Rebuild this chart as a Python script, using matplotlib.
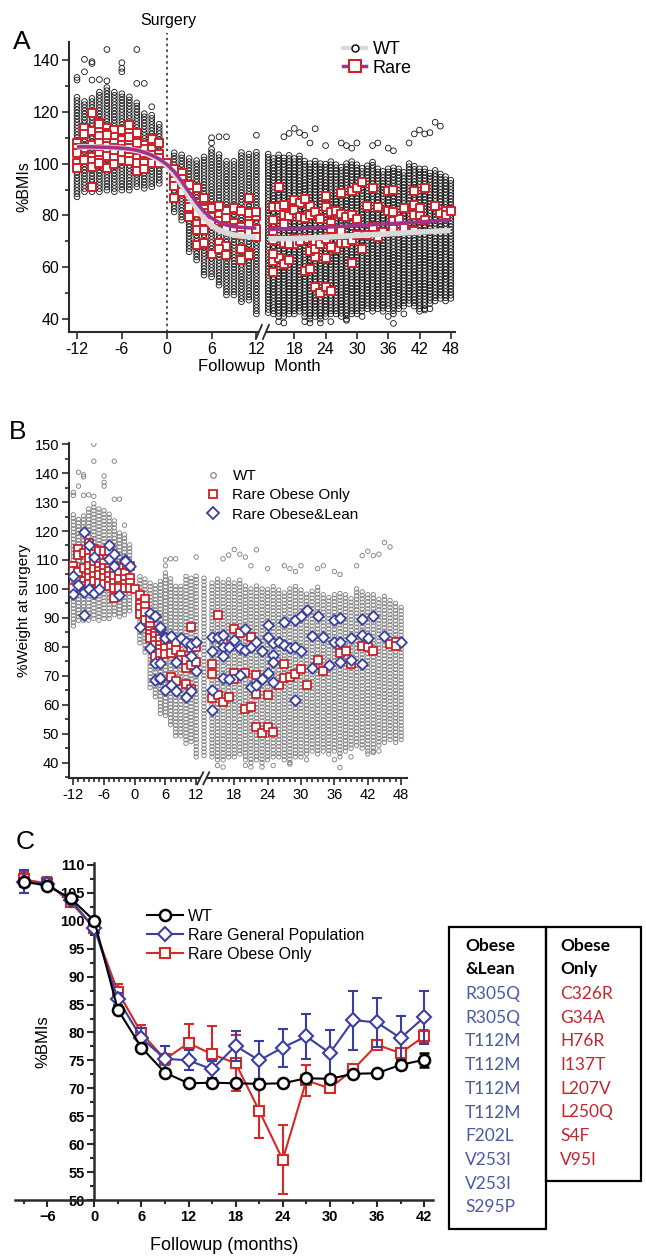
import numpy as np
import matplotlib
matplotlib.use("Agg")
import matplotlib.pyplot as plt
from matplotlib.ticker import FixedLocator, MultipleLocator
from matplotlib.patches import Rectangle
from matplotlib.lines import Line2D

NARROW = ["Liberation Sans Narrow", "Liberation Sans", "DejaVu Sans"]
ARIAL = ["Liberation Sans", "DejaVu Sans"]
plt.rcParams["font.family"] = NARROW

# ---------------- WT cloud (panels A, B): dense column range per month ----------------
wt_months = list(range(-12, 13)) + list(range(13, 49))
wt_lo = [87.2, 89.2, 89.2, 89.2, 89.8, 89.2, 89.8, 89.8, 91.1, 90.5, 91.1, 92.4,
         100.0, 81.4, 78.2, 66.0, 62.8, 57.0, 56.3, 53.1, 49.3, 49.3, 46.7, 47.3, 42.0,
         42.5, 42, 41, 41, 42, 42, 43, 41, 40, 41, 40, 41, 42, 42, 41, 40, 42, 42,
         43, 44, 43, 44, 43, 44, 42, 44, 45, 46, 45, 44, 44, 46, 47, 48, 47, 48]
wt_hi = [125.8, 124.6, 125.8, 128.0, 130.0, 128.0, 127.0, 126.0, 124.0, 120.0, 119.0, 116.2,
         100.0, 105.3, 104.0, 103.0, 101.4, 102.7, 106.5, 104.0, 101.0, 101.4, 104.6, 104.0, 105.0,
         104, 103, 104, 103, 104, 103, 104, 102, 101, 102, 101, 100, 101, 100, 99, 100, 101, 100,
         99, 100, 101, 99, 98, 99, 99, 98, 97, 100, 100, 99, 98, 97, 98, 96, 95, 94]
wt_out_m = [-12, -12, -11, -11, -10, -10, -10, -9, -8, -8, -6, -6, -6, -4, -4, -3, -2,
            6, 6, 7, 8, 12, 16, 17, 18, 19, 20, 21, 22, 24, 27, 28, 29, 30, 33, 34, 36,
            37, 40, 41, 42, 43, 44, 45, 46,
            15, 16, 20, 21, 23, 25, 28, 31, 36, 37, 39, 42, 43, 44]
wt_out_v = [133.3, 132.3, 140.3, 135.5, 138.7, 139.4, 132.3, 132.5, 144.1, 132.0, 139.0,
            136.8, 135.5, 144.1, 131.0, 131.0, 122.0,
            108.0, 110.0, 110.4, 110.4, 111.0, 110.4, 111.7, 113.6, 112.0, 111.0, 108.0,
            113.5, 107.0, 108.0, 107.0, 106.0, 108.0, 107.0, 108.0, 106.0, 105.0, 108.0,
            111.5, 113.0, 111.5, 112.0, 116.0, 114.5,
            39.0, 38.5, 39.0, 38.5, 38.5, 39.0, 39.5, 41.0, 41.0, 38.3, 42.0, 43.0, 43.5, 44.0]
wt_outB_m = [-8]
wt_outB_v = [150.0]

# ---------------- Rare carriers (panel B split, panel A combined) ----------------
red_m = [-12, -12, -12, -11, -11, -11, -10, -10, -10, -10,
         -9, -9, -9, -9, -9, -9, -9, -8, -8, -8, -8, -8, -8,
         -7, -7, -7, -7, -7, -7, -6, -6, -6, -6, -6, -6,
         -5, -5, -5, -5, -5, -5, -4, -4, -4, -4, -4, -4,
         -3, -3, -3, -3, -3, -2, -2, -2, -2, -1, -1, -1, -1, 0,
         1, 1, 1, 1, 2, 2, 2, 2, 3, 3, 3, 3, 3, 4, 4, 4, 4, 4, 5, 5, 5, 5, 5,
         6, 6, 6, 7, 7, 7, 8, 8, 8, 9, 9, 10, 10, 10, 11, 11, 11, 11, 12, 12,
         14, 14, 14, 15, 15, 16, 16, 17, 18, 18, 18, 19, 20, 20, 21, 21, 22, 22, 22,
         23, 24, 24, 25, 26, 27, 27, 28, 29, 30, 31, 33, 34, 37, 38, 39, 41, 42, 43,
         46, 47, 47]
red_v = [107.9, 106.2, 100.4, 113.7, 111.6, 105.9, 112.5, 107.3, 102.7, 101.0,
         115.7, 113.1, 110.8, 107.9, 105.6, 103.9, 101.6, 113.9, 111.9, 109.1, 106.8, 104.4, 102.9,
         113.1, 110.2, 107.9, 106.2, 104.7, 102.1, 113.1, 109.1, 107.3, 105.6, 103.9, 101.6,
         113.1, 107.3, 106.2, 104.4, 102.7, 101.0, 107.9, 106.2, 104.4, 102.1, 100.4, 97.0,
         107.3, 105.6, 103.3, 101.0, 100.4, 105.6, 103.3, 101.6, 100.4, 107.9, 103.9, 102.1, 100.4, 100.1,
         97.8, 94.7, 93.5, 91.4, 96.4, 94.1, 92.0, 89.2, 89.5, 87.2, 85.4, 84.3, 83.1,
         84.9, 83.7, 82.0, 80.8, 76.8, 84.3, 82.6, 80.8, 79.1, 78.0,
         81.6, 79.5, 77.4, 80.1, 77.8, 69.5, 81.6, 79.0, 68.2, 77.2, 75.3, 75.5, 72.6, 67.2,
         86.8, 79.5, 73.8, 65.5, 79.8, 74.6,
         74.1, 70.6, 62.3, 91.0, 63.4, 82.4, 61.1, 62.8, 86.1, 71.1, 68.8, 84.7, 71.1, 58.5,
         83.5, 59.2, 70.3, 63.8, 52.2, 50.2, 63.4, 52.2, 50.7, 66.9, 74.1, 69.2, 69.5, 70.6,
         72.3, 66.9, 75.5, 71.5, 77.8, 78.6, 74.1, 80.3, 80.1, 78.4, 80.9, 81.8, 80.3]
blue_m = [-12, -12, -11, -10, -10, -10, -9, -9, -9, -8, -8, -7, -5, -5, -4, -4, -3, -2, -2, -1,
          1, 3, 3, 4, 4, 4, 4, 5, 5, 5, 5, 5, 6, 6, 6, 7, 7, 8, 8, 9, 10, 10, 11, 11, 11,
          12, 12,
          14, 14, 14, 14, 15, 16, 16, 16, 16, 17, 17, 18, 19, 19, 20, 20, 21, 21, 22, 22,
          23, 23, 24, 24, 24, 25, 25, 25, 25, 26, 27, 27, 28, 29, 29, 29, 30, 30, 31, 32,
          32, 33, 34, 35, 36, 36, 37, 37, 37, 39, 39, 41, 41, 41, 42, 43, 45, 48]
blue_v = [104.3, 98.3, 101.4, 119.5, 91.0, 98.8, 115.2, 99.9, 100.1, 98.5, 111.0, 99.9, 115.0, 110.5,
          111.9, 108.0, 98.0, 110.0, 109.5, 108.0,
          86.9, 91.8, 79.5, 90.6, 74.5, 68.6, 90.5, 86.0, 74.5, 69.0, 86.8, 69.2,
          83.3, 65.1, 83.0, 83.6, 66.9, 74.9, 64.6, 83.0, 81.8, 62.8, 80.9, 76.7, 64.6,
          81.5, 71.8,
          83.3, 78.4, 65.1, 58.2, 83.3, 84.1, 80.1, 76.7, 69.2, 79.9, 68.8, 82.2, 79.5, 70.3,
          86.3, 79.0, 80.1, 66.3, 81.5, 66.9, 78.7, 68.8, 87.6, 83.3, 70.9, 81.3, 77.2, 74.9,
          68.0, 81.8, 80.7, 88.7, 79.5, 80.1, 89.3, 61.7, 90.7, 78.7, 92.8, 72.6, 83.6, 90.7,
          83.3, 73.8, 89.3, 81.8, 89.9, 81.5, 74.9, 83.0, 75.3, 89.5, 84.1, 74.1, 83.0, 90.7,
          83.6, 81.8]

# ---------------- fitted curves, panel A ----------------
fitL_m = list(range(-12, 13))
fit_rare_L = [106.5, 106.5, 106.5, 106.4, 106.3, 106.2, 106.0, 105.7, 105.2, 104.4, 103.3, 101.8,
              99.8, 97.0, 93.2, 89.0, 85.0, 81.5, 79.0, 77.3, 76.3, 75.7, 75.4, 75.2, 75.1]
fit_wt_L = [106.5, 106.5, 106.5, 106.4, 106.3, 106.2, 106.0, 105.6, 105.1, 104.3, 103.0, 101.4,
            99.2, 96.0, 91.8, 87.2, 82.8, 79.0, 76.2, 74.4, 73.2, 72.5, 72.0, 71.8, 71.6]
fitR_m = [13, 18, 24, 30, 36, 42, 48]
fit_rare_R = [74.6, 74.9, 75.5, 76.1, 76.8, 77.5, 78.3]
fit_wt_R = [71.0, 71.1, 71.6, 72.3, 72.9, 73.6, 74.2]

# ---------------- panel C: means and SEM ----------------
c_months = [-9, -6, -3, 0, 3, 6, 9, 12, 15, 18, 21, 24, 27, 30, 33, 36, 39, 42]
c_wt = [107.0, 106.3, 104.0, 100.0, 84.1, 77.3, 72.8, 70.9, 71.0, 70.9, 70.8, 70.9, 71.8, 71.7,
        72.6, 72.7, 74.2, 75.1]
c_wt_err = [0.5, 0.5, 0.4, 0.0, 0.4, 0.5, 0.4, 0.3, 0.3, 0.3, 0.3, 0.3, 0.4, 0.4, 0.5, 0.6, 0.8, 1.2]
c_gen = [107.0, 106.6, 103.7, 98.7, 86.0, 79.0, 75.3, 75.0, 73.4, 77.6, 75.0, 77.3, 79.3, 76.3,
         82.2, 81.8, 79.0, 82.7]
c_gen_err = [2.1, 0.8, 0.5, 0.5, 1.0, 1.8, 2.2, 1.8, 1.5, 2.7, 3.4, 3.4, 4.0, 4.2, 5.3, 4.4, 3.9, 4.7]
c_obese = [107.4, 106.7, 103.3, 98.7, 87.3, 79.9, 75.2, 78.1, 76.1, 74.5, 66.0, 57.2, 71.4, 70.0,
           73.4, 77.8, 76.3, 79.3]
c_obese_err = [1.4, 1.2, 0.6, 0.5, 1.4, 1.5, 1.0, 3.5, 5.0, 5.0, 4.9, 6.2, 2.8, 0.7, 0.7, 0.8, 1.0, 1.2]

obese_lean = ["R305Q", "R305Q", "T112M", "T112M", "T112M", "T112M", "F202L", "V253I", "V253I", "S295P"]
obese_only = ["C326R", "G34A", "H76R", "I137T", "L207V", "L250Q", "S4F", "V95I"]

major_ticks = [-12, -6, 0, 6, 12, 18, 24, 30, 36, 42, 48]

RED = "#cc2229"
BLUE = "#3a3f9f"
PURPLE = "#a3338a"
SPINE = "#2b2b2b"

W, H = 646, 1259
fig = plt.figure(figsize=(W / 100, H / 100), dpi=100)


def fx(x):
    return x / W


def fy(y):
    return 1 - y / H


def axes_px(l, t, r, b):
    return fig.add_axes([fx(l), fy(b), (r - l) / W, (b - t) / H])


def break_scale(brk, gap_end, f_gap_end, k):
    g = (f_gap_end - brk) / (gap_end - brk)

    def fwd(x):
        x = np.asarray(x, float)
        return np.where(x <= brk, x, np.where(x <= gap_end, brk + (x - brk) * g,
                                              f_gap_end + (x - gap_end) * k))

    def inv(y):
        y = np.asarray(y, float)
        return np.where(y <= brk, y, np.where(y <= f_gap_end, brk + (y - brk) / g,
                                              gap_end + (y - f_gap_end) / k))
    return fwd, inv


def cloud(months, lo, hi, step):
    xs, ys = [], []
    for m, a, b in zip(months, lo, hi):
        col = np.arange(a, b + 1e-9, step) if b > a else np.array([a])
        xs.append(np.full(col.size, m, float))
        ys.append(col)
    return np.concatenate(xs), np.concatenate(ys)


def style_axes(ax):
    for s in ("top", "right"):
        ax.spines[s].set_visible(False)
    for s in ("left", "bottom"):
        ax.spines[s].set_color(SPINE)
        ax.spines[s].set_linewidth(1.5)
    ax.tick_params(which="both", color=SPINE, width=1.2, direction="out")


def draw_break(ax, xb, dx_px=3.5, h_px=7):
    fig.canvas.draw()
    xd = ax.transData.transform((xb, 0))[0]
    y0 = ax.transAxes.transform((0, 0))[1]
    inv = fig.transFigure.inverted()
    p1 = inv.transform((xd - dx_px, y0 - 2))
    p2 = inv.transform((xd + dx_px, y0 + 2))
    fig.add_artist(Rectangle(p1, p2[0] - p1[0], p2[1] - p1[1], transform=fig.transFigure,
                             facecolor="white", edgecolor="none", zorder=10))
    for off in (-dx_px, dx_px):
        a = inv.transform((xd + off - 3, y0 - h_px))
        b = inv.transform((xd + off + 3, y0 + h_px))
        fig.add_artist(Line2D([a[0], b[0]], [a[1], b[1]], transform=fig.transFigure,
                              color=SPINE, lw=1.3, zorder=11))


# ================= Panel A =================
axA = axes_px(69, 42, 455, 332)
fA, iA = break_scale(12.5, 13.0, 13.58, 0.698)
axA.set_xscale("function", functions=(fA, iA))
axA.set_xlim(-13.07, 48.8)
axA.set_ylim(35, 147)
style_axes(axA)
xs, ys = cloud(wt_months, wt_lo, wt_hi, 1.2)
axA.scatter(xs, ys, s=17, facecolors="none", edgecolors="#111111", linewidths=0.6, zorder=2)
axA.scatter(wt_out_m, wt_out_v, s=17, facecolors="none", edgecolors="#111111", linewidths=0.6, zorder=2)
rare_m = red_m + blue_m
rare_v = red_v + blue_v
axA.scatter(rare_m, rare_v, marker="s", s=36, facecolors="white", edgecolors=RED, linewidths=1.4, zorder=3)
axA.plot(fitL_m, fit_wt_L, color="#d9d9d9", lw=4, zorder=4, solid_capstyle="butt")
axA.plot(fitR_m, fit_wt_R, color="#d9d9d9", lw=4, zorder=4, solid_capstyle="butt")
axA.plot(fitL_m, fit_rare_L, color=PURPLE, lw=2.6, zorder=5, solid_capstyle="butt")
axA.plot(fitR_m, fit_rare_R, color=PURPLE, lw=2.6, zorder=5, solid_capstyle="butt")
axA.axvline(0, ymin=0, ymax=1.03, color="#333333", lw=1.2, ls=(0, (1.5, 2)), clip_on=False, zorder=1)
axA.xaxis.set_major_locator(FixedLocator(major_ticks))
axA.set_xticklabels([str(t) for t in major_ticks])
axA.set_yticks(range(40, 141, 20))
axA.yaxis.set_minor_locator(MultipleLocator(10))
axA.tick_params(axis="both", which="major", labelsize=11.5, length=5, pad=2)
axA.tick_params(axis="y", which="minor", length=3)
axA.set_ylabel("%BMIs", fontsize=11.5)
axA.yaxis.set_label_coords(-0.098, 0.5)
hA = [Line2D([], [], color="#d9d9d9", lw=3, marker="o", ms=5, mfc="white", mec="black", mew=1.0),
      Line2D([], [], color=PURPLE, lw=2.5, marker="s", ms=8, mfc="white", mec=RED, mew=1.5)]
axA.legend(hA, ["WT", "Rare"], loc="upper left", bbox_to_anchor=(fx(343), fy(41)),
           bbox_transform=fig.transFigure, frameon=False, fontsize=13, handlelength=1.3,
           handletextpad=0.35, labelspacing=0.1, borderpad=0, borderaxespad=0)
fig.text(fx(168), fy(20), "Surgery", ha="center", va="center", fontsize=11.5)
fig.text(fx(259), fy(366), "Followup  Month", ha="center", va="center", fontsize=12)
fig.text(fx(22), fy(42), "A", ha="center", va="center", fontsize=19, family=ARIAL)

# ================= Panel B =================
axB = axes_px(69, 442.7, 406.7, 778.3)
fB, iB = break_scale(12.5, 13.5, 14.54, 1.087)
axB.set_xscale("function", functions=(fB, iB))
axB.set_xlim(-12.85, 49)
axB.set_ylim(34.6, 150.5)
style_axes(axB)
xs, ys = cloud(wt_months, wt_lo, wt_hi, 1.2)
axB.scatter(xs, ys, s=10, facecolors="none", edgecolors="#7a7a7a", linewidths=0.6, zorder=2)
axB.scatter(wt_out_m + wt_outB_m, wt_out_v + wt_outB_v, s=10, facecolors="none",
            edgecolors="#7a7a7a", linewidths=0.6, zorder=2)
axB.scatter(red_m, red_v, marker="s", s=30, facecolors="white", edgecolors=RED, linewidths=1.3, zorder=3)
axB.scatter(blue_m, blue_v, marker="D", s=30, facecolors="white", edgecolors=BLUE, linewidths=1.3, zorder=4)
axB.xaxis.set_major_locator(FixedLocator(major_ticks))
axB.set_xticklabels([str(t) for t in major_ticks])
axB.xaxis.set_minor_locator(FixedLocator([m for m in list(range(-12, 13)) + list(range(14, 49))
                                          if m not in major_ticks]))
axB.set_yticks(range(40, 151, 10))
axB.yaxis.set_minor_locator(MultipleLocator(5))
axB.tick_params(axis="both", which="major", labelsize=10.5, length=5, pad=2)
axB.tick_params(axis="both", which="minor", length=3)
axB.set_ylabel("%Weight at surgery", fontsize=11)
axB.yaxis.set_label_coords(-0.112, 0.5)
hB = [Line2D([], [], ls="none", marker="o", ms=4, mfc="none", mec="#7a7a7a", mew=0.8),
      Line2D([], [], ls="none", marker="s", ms=6, mfc="white", mec=RED, mew=1.3),
      Line2D([], [], ls="none", marker="D", ms=6, mfc="white", mec=BLUE, mew=1.3)]
axB.legend(hB, ["WT", "Rare Obese Only", "Rare Obese&Lean"], loc="upper left",
           bbox_to_anchor=(fx(205), fy(469)), bbox_transform=fig.transFigure, frameon=False,
           fontsize=11, handlelength=1.0, handletextpad=0.8, labelspacing=0.35,
           borderpad=0, borderaxespad=0)
fig.text(fx(18), fy(432), "B", ha="center", va="center", fontsize=19, family=ARIAL)

# ================= Panel C =================
axC = axes_px(15, 862.7, 432.7, 1200)
axC.set_xlim(-10.1, 43.1)
axC.set_ylim(50, 110.4)
style_axes(axC)
axC.spines["left"].set_position(("data", 0))
axC.spines["left"].set_linewidth(1.8)
axC.spines["bottom"].set_linewidth(1.8)
ekw = dict(capsize=3.5, elinewidth=1.5, capthick=1.5, lw=1.5)
axC.errorbar(c_months, c_obese, yerr=c_obese_err, color="#d42a2a", marker="s", ms=7.5,
             mfc="white", mec="#d42a2a", mew=1.5, zorder=3, **ekw)
axC.errorbar(c_months, c_gen, yerr=c_gen_err, color=BLUE, marker="D", ms=7.5,
             mfc="white", mec=BLUE, mew=1.5, zorder=4, **ekw)
axC.errorbar(c_months, c_wt, yerr=c_wt_err, color="black", marker="o", ms=8,
             mfc="white", mec="black", mew=1.8, zorder=5, **ekw)
axC.set_xticks(range(-6, 43, 6))
axC.xaxis.set_minor_locator(FixedLocator(list(range(-9, 43, 6))))
axC.set_yticks(range(50, 111, 5))
axC.yaxis.set_minor_locator(MultipleLocator(2.5))
axC.tick_params(axis="both", which="major", labelsize=10.5, length=5, width=1.5, pad=2)
axC.tick_params(axis="both", which="minor", length=3, width=1.5)
for lab in axC.get_xticklabels() + axC.get_yticklabels():
    lab.set_family(ARIAL)
    lab.set_fontweight("bold")
fig.text(fx(43), fy(1042), "%BMIs", rotation=90, ha="center", va="center", fontsize=12, family=ARIAL)
fig.text(fx(224), fy(1245), "Followup (months)", ha="center", va="center", fontsize=13, family=ARIAL)
hC = [Line2D([], [], color="black", lw=1.5, marker="o", ms=8, mfc="white", mec="black", mew=1.8),
      Line2D([], [], color=BLUE, lw=1.5, marker="D", ms=7.5, mfc="white", mec=BLUE, mew=1.5),
      Line2D([], [], color="#d42a2a", lw=1.5, marker="s", ms=7.5, mfc="white", mec="#d42a2a", mew=1.5)]
axC.legend(hC, ["WT", "Rare General Population", "Rare Obese Only"], loc="upper left",
           bbox_to_anchor=(fx(147), fy(909)), bbox_transform=fig.transFigure, frameon=False,
           prop={"family": ARIAL, "size": 11.5}, handlelength=2.25, handletextpad=0.3,
           labelspacing=0.25, borderpad=0, borderaxespad=0)
fig.text(fx(25), fy(842), "C", ha="center", va="center", fontsize=19, family=ARIAL)

# ================= Table =================
def box(l, t, r, b):
    fig.add_artist(Rectangle((fx(l), fy(b)), (r - l) / W, (b - t) / H, transform=fig.transFigure,
                             facecolor="none", edgecolor="black", lw=1.6))


box(449.3, 926.7, 545.7, 1229.3)
box(545.7, 926.7, 641.3, 1181)
TFONT = ["Lato", "Open Sans", "DejaVu Sans"]
for x0, head, items, col in ((465, ("Obese", "&Lean"), obese_lean, "#4a59a8"),
                             (560, ("Obese", "Only"), obese_only, "#c1272d")):
    fig.text(fx(x0), fy(945.7), head[0], ha="left", va="center", fontsize=12.5,
             fontweight="bold", family=TFONT)
    fig.text(fx(x0), fy(969.3), head[1], ha="left", va="center", fontsize=12.5,
             fontweight="bold", family=TFONT)
    for i, t in enumerate(items):
        fig.text(fx(x0), fy(994 + 23.7 * i), t, ha="left", va="center", fontsize=12.5,
                 color=col, family=TFONT)

draw_break(axA, 12.64)
draw_break(axB, 12.93, dx_px=3.0, h_px=6)

fig.savefig("out.png", dpi=100)
